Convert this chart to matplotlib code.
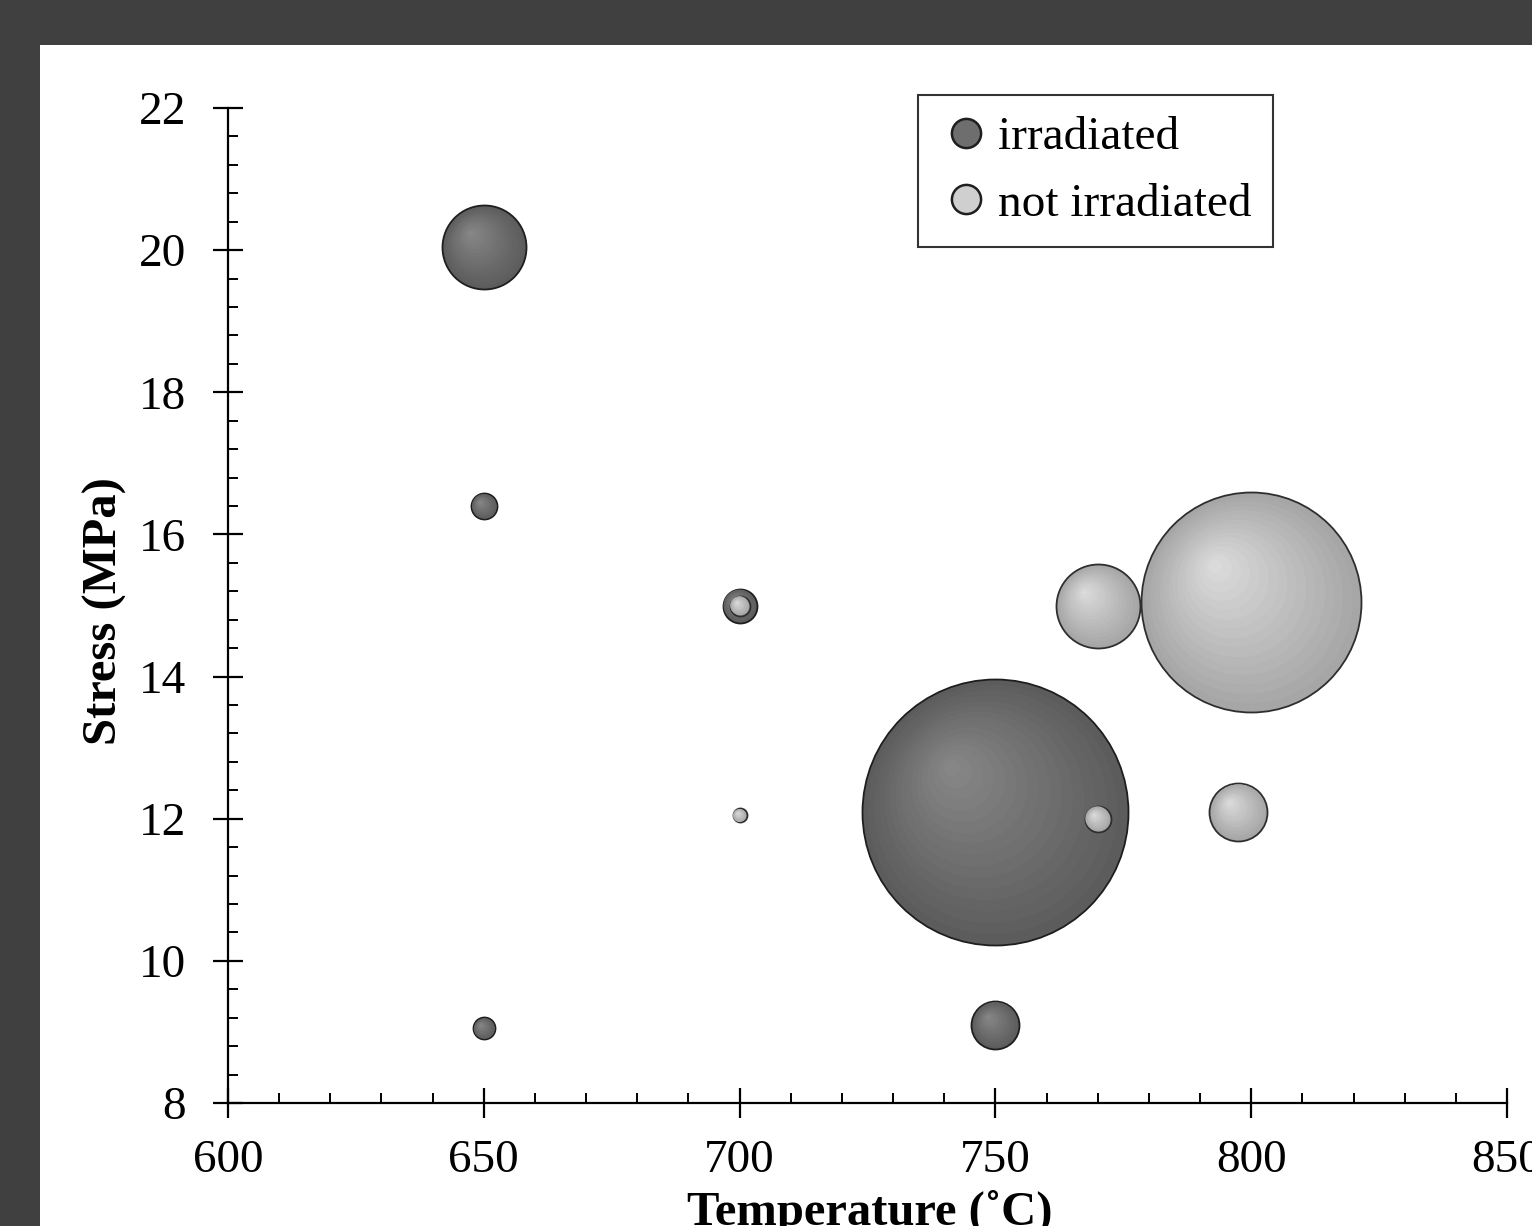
"""Bubble chart: creep stress vs temperature, irradiated vs not irradiated."""

import matplotlib

matplotlib.use("Agg")

import matplotlib.pyplot as plt  # noqa: E402
import numpy as np  # noqa: E402
from matplotlib.colors import to_rgb  # noqa: E402
from matplotlib.lines import Line2D  # noqa: E402
from matplotlib.patches import Rectangle  # noqa: E402
from matplotlib.ticker import MultipleLocator  # noqa: E402
from matplotlib.transforms import ScaledTranslation  # noqa: E402

DPI = 100
FONT = ["Liberation Serif", "DejaVu Serif"]

# irradiated samples: temperature (C), stress (MPa), relative bubble size
irr_temp = [650, 650, 650, 700, 750, 750]
irr_stress = [20.05, 16.4, 9.05, 15.0, 12.1, 9.1]
irr_size = [4.2, 1.3, 1.1, 1.7, 13.3, 2.4]

# not irradiated samples
non_temp = [700, 700, 770, 770, 800, 797.5]
non_stress = [15.0, 12.05, 12.0, 15.0, 15.05, 12.1]
non_size = [1.0, 0.7, 1.3, 4.2, 11.0, 2.9]

labels = ["irradiated", "not irradiated"]
x_ticks = [600, 650, 700, 750, 800, 850]
y_ticks = [8, 10, 12, 14, 16, 18, 20, 22]

SIZE_PX = 10.0  # pixels of radius per unit of relative size
DARK = ("#5c5c5c", "#868686", "#1e1e1e")  # rim, highlight, outline
LIGHT = ("#a6a6a6", "#dadada", "#2e2e2e")


def sphere(ax, fig, x, y, r_px, style, layers=16):
    """Shaded ball: stacked discs shrinking toward an upper-left highlight."""
    rim, hi, edge = (np.array(to_rgb(c)) for c in style)
    for i in range(layers):
        f = 1 - i / layers
        off = (1 - f) * 0.35 * r_px / DPI
        col = rim + (hi - rim) * (i / (layers - 1))
        tr = ax.transData + ScaledTranslation(-off, off, fig.dpi_scale_trans)
        ax.plot(
            x,
            y,
            "o",
            ms=2 * r_px * f * 72 / DPI,
            mfc=col,
            mec=edge if i == 0 else "none",
            mew=1.3 if i == 0 else 0,
            transform=tr,
            zorder=3,
        )


fig = plt.figure(figsize=(15.32, 12.26), dpi=DPI, facecolor="#404040")
fig.patches.append(
    Rectangle(
        (40 / 1532, 0), 1, 1 - 45 / 1226, transform=fig.transFigure,
        facecolor="white", edgecolor="none", zorder=-10,
    )
)
ax = fig.add_axes((228 / 1532, 123 / 1226, 1279 / 1532, 995 / 1226))
ax.set_facecolor("none")

for t, s, z in zip(irr_temp, irr_stress, irr_size):
    sphere(ax, fig, t, s, z * SIZE_PX, DARK)
for t, s, z in zip(non_temp, non_stress, non_size):
    sphere(ax, fig, t, s, z * SIZE_PX, LIGHT)

ax.set_xlim(600, 850)
ax.set_ylim(8, 22)
ax.set_xticks(x_ticks)
ax.set_yticks(y_ticks)
ax.xaxis.set_minor_locator(MultipleLocator(10))
ax.yaxis.set_minor_locator(MultipleLocator(0.4))
for side in ("top", "right"):
    ax.spines[side].set_visible(False)
for side in ("left", "bottom"):
    ax.spines[side].set_linewidth(1.6)
ax.tick_params(which="major", direction="inout", length=22, width=1.6, labelsize=34)
ax.tick_params(axis="x", which="major", pad=15)
ax.tick_params(axis="y", which="major", pad=19)
ax.tick_params(which="minor", direction="in", length=7, width=1.4)
for lab in ax.get_xticklabels() + ax.get_yticklabels():
    lab.set_family(FONT)

ax.set_xlabel("Temperature (˚C)", fontsize=35, fontweight="bold", family=FONT)
ax.set_ylabel("Stress (MPa)", fontsize=35, fontweight="bold", family=FONT)
ax.xaxis.set_label_coords(0.502, -0.087)
ax.yaxis.set_label_coords(-0.079, 0.494)

handles = [
    Line2D([], [], ls="none", marker="o", ms=21, mfc="#6e6e6e", mec="#1e1e1e", mew=1.8),
    Line2D([], [], ls="none", marker="o", ms=21, mfc="#cfcfcf", mec="#1e1e1e", mew=1.8),
]
leg = fig.legend(
    handles, labels, loc="upper left", bbox_to_anchor=(918 / 1532, 1 - 95 / 1226),
    prop={"family": FONT, "size": 34}, frameon=True, fancybox=False,
    handlelength=1.15, handletextpad=0.1, borderpad=0.45, labelspacing=0.5,
    borderaxespad=0,
)
leg.get_frame().set_edgecolor("black")
leg.get_frame().set_linewidth(1.5)

fig.savefig("out.png", dpi=DPI, facecolor=fig.get_facecolor())
